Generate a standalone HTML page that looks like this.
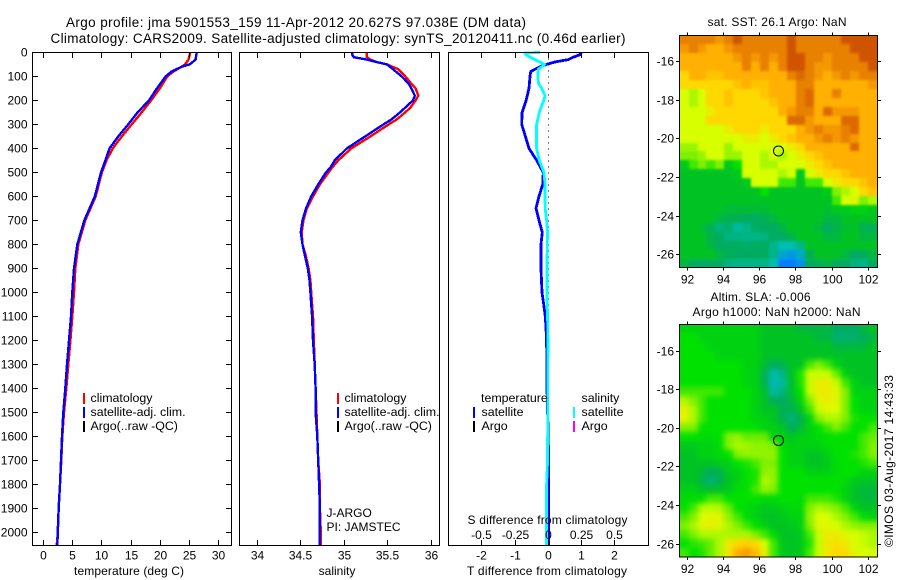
<!DOCTYPE html>
<html>
<head>
<meta charset="utf-8">
<title>Argo profile</title>
<style>
html,body{margin:0;padding:0;background:#fff}
svg{display:block}
text{font-family:"Liberation Sans",sans-serif;font-size:12px;fill:#000}
</style>
</head>
<body>
<svg id="chart" xmlns="http://www.w3.org/2000/svg" width="900" height="580" viewBox="0 0 900 580">
<defs>
<filter id="sstBlur" filterUnits="userSpaceOnUse" x="640" y="0" width="260" height="300" color-interpolation-filters="sRGB"><feGaussianBlur stdDeviation="1.2"/></filter>
<filter id="slaBlur" filterUnits="userSpaceOnUse" x="640" y="290" width="260" height="290" color-interpolation-filters="sRGB"><feGaussianBlur stdDeviation="2.7"/></filter>
<clipPath id="sstClip"><rect x="679" y="35" width="199" height="233"/></clipPath>
<clipPath id="slaClip"><rect x="679" y="324" width="199" height="233"/></clipPath>
</defs>
<text x="66" y="27" textLength="460" style="font-size:13.5px">Argo profile: jma 5901553_159 11-Apr-2012 20.627S 97.038E (DM data)</text>
<text x="50.5" y="43" textLength="575" style="font-size:13.5px">Climatology: CARS2009. Satellite-adjusted climatology: synTS_20120411.nc (0.46d earlier)</text>
<text x="74" y="575" textLength="110">temperature (deg C)</text>
<text x="337" y="575" text-anchor="middle">salinity</text>
<text x="707.5" y="26" textLength="139">sat. SST: 26.1  Argo: NaN</text>
<text x="710.5" y="301" textLength="100">Altim. SLA: -0.006</text>
<text x="692.5" y="316" textLength="168">Argo h1000: NaN h2000: NaN</text>
<text transform="translate(893,547) rotate(-90)" textLength="172">©IMOS 03-Aug-2017 14:43:33</text>
</svg>
<script>
/* ---- profile data ---- */
var depthTicks = [0,100,200,300,400,500,600,700,800,900,1000,1100,1200,1300,1400,1500,1600,1700,1800,1900,2000];
var tempTicks = [0,5,10,15,20,25,30];
var salTicks = [34,34.5,35,35.5,36];
var salTickLabels = ['34','34.5','35','35.5','36'];
var tDiffTicks = [-2,-1,0,1,2];
var tDiffTickLabels = ['-2','-1','0','1','2'];
var sDiffTicks = [-0.5,-0.25,0,0.25,0.5];
var sDiffTickLabels = ['-0.5','-0.25','0','0.25','0.5'];

var tempDepths = [0,30,50,60,80,100,150,200,250,300,350,400,450,500,600,700,800,900,1000,1100,1200,1300,1400,1500,1600,1700,1800,1900,2000,2055];
var tempClim = [25.1,24.8,24.2,23.6,22.2,21.2,19.9,18.4,16.8,15.1,13.4,11.85,10.8,10.0,8.95,7.18,5.98,5.47,5.24,4.96,4.62,4.27,3.93,3.53,3.25,3.08,2.85,2.62,2.5,2.28];
var tempSat = [26.2,26.0,25.0,23.6,21.9,20.9,19.4,18.05,16.1,14.5,12.8,11.3,10.6,9.85,8.8,7.0,5.8,5.25,4.95,4.73,4.39,4.05,3.76,3.42,3.19,3.02,2.85,2.63,2.46,2.4];

var salDepths = [0,10,20,30,40,50,70,100,130,150,180,200,230,250,280,300,350,400,450,480,500,550,600,650,700,750,800,850,900,950,1000,1100,1200,1300,1400,1500,1600,1700,1800,1900,2000,2055];
var salClim = [35.26,35.26,35.26,35.30,35.37,35.49,35.62,35.70,35.77,35.82,35.85,35.82,35.76,35.70,35.60,35.51,35.30,35.08,34.93,34.86,34.82,34.72,34.64,34.57,34.53,34.51,34.52,34.56,34.59,34.61,34.62,34.64,34.65,34.66,34.67,34.68,34.69,34.70,34.72,34.72,34.73,34.73];
var salSat = [35.09,35.09,35.11,35.26,35.37,35.49,35.56,35.66,35.74,35.77,35.81,35.79,35.70,35.64,35.54,35.45,35.24,35.03,34.89,34.84,34.79,34.70,34.62,34.56,34.52,34.50,34.52,34.55,34.58,34.60,34.61,34.63,34.64,34.66,34.67,34.67,34.69,34.70,34.71,34.72,34.72,34.72];

var tDiffDepths = [0,10,20,30,40,50,60,70,80,100,150,200,250,300,350,400,450,500,550,600,650,700,750,800,900,1000,1050,1100,1150,1200,1400,1500,1600,1800,2000,2055];
var tDiffSat = [0.99,0.95,0.75,0.6,0.2,-0.05,-0.25,-0.4,-0.53,-0.55,-0.58,-0.67,-0.79,-0.8,-0.69,-0.58,-0.35,-0.15,-0.17,-0.28,-0.37,-0.28,-0.18,-0.22,-0.22,-0.19,-0.14,-0.09,-0.07,-0.05,-0.04,-0.02,0,0.01,0.01,0.01];
var sDiffDepths = [0,3,10,20,30,40,50,60,70,100,130,150,180,200,230,250,300,350,400,450,500,550,650,700,750,800,1000,1050,1100,1200,1700,1800,2055];
var sDiffSat = [-0.063,-0.176,-0.168,-0.138,-0.10,-0.063,-0.03,-0.05,-0.075,-0.08,-0.073,-0.05,-0.025,-0.033,-0.055,-0.068,-0.088,-0.088,-0.088,-0.068,-0.033,-0.025,-0.023,-0.013,-0.005,-0.008,-0.01,-0.008,-0.005,-0.003,-0.005,-0.013,-0.013];

/* ---- map data: colour levels 0 (blue) to 10 (dark orange), north to south ---- */
var lonTicks = [92,94,96,98,100,102];
var latTicks = [-16,-18,-20,-22,-24,-26];
var floatLon = 97.038;
var floatLat = -20.627;
var sstGrid = [
[9,9,9,9,8.5,9,10,9,9,9,9,9,10,9,9,9,9,9,10,10,10,10],
[8.5,9,8.5,8,8,8.5,9,9,9,9,9,9,10,9,9,9,9,9,9,10,10,10],
[8,8,8,8,8,8,8.5,9,8.5,9,8.5,9,10,10,9,9,8.5,9,9,9,10,10],
[8,8,8,8,8,8,8,9,8,9,8,9,10,10,9,8.5,8.5,9,9,9,9,10],
[7,8,8,7.5,7.5,8,8,8,8,8,8,8,9,9.5,9,8.5,8,8.5,9,8.5,9,9],
[7,7,7,7,7,7,7.5,8,7.5,7.5,8,8,8,9,9,8,8,8,8,8,8,8.5],
[6,5.5,6,7,7,7.5,7,7,7,7.5,8,8,8,9,9.5,8,8,9,8,8,8,8],
[6,5.5,6,7,7,7.5,7,7,7,7,7.5,8,8,9,9.5,8,8,8,8,8,8,8],
[6,6,6,6.5,7,7,7,7,7,7,7,8,8.5,9,9,8,9.5,8.5,8.5,8.5,8,8],
[6,6,6,7,7,7,7,7,7,7,7,7,9.5,9.5,8.5,8,8,8,9.5,9.5,8,8],
[6,6,6,6,6,6.5,7,7,7,6.5,7,7,7,8,8.5,9,8.5,8.5,9,9.5,8,8],
[6,6,6,6,6,6,6,6.5,6.5,6,6.5,7,7.5,8,8,8.5,9,8.5,9,8.5,8,8],
[5.3,5.3,6,6,6,5.3,6,6,6,6,6,6,6.5,7,8,8,8,8,8,9.5,8,8],
[5,5,5.3,6,6,5.3,5.3,6,6,5.5,6,5.5,6,6.5,7,7.5,8,8,8,8,8,8],
[3.2,4.5,5,4.5,5,3.2,4,6,6,5.5,5.5,6,6,6,6.5,7,7.5,8,8,8,8,8],
[3,3,3,3,3,3,3.2,6,6,6,6,5.5,6,3.2,6,6.5,7,7,7.5,8,8,8],
[3,3,3,3,3,3,3,3.2,6,6,6,4.5,4.5,3,4.5,4.5,6,6.5,7,7,7.5,8],
[3,3,3,3,3,3,3,3,3,4,3,3,3,3,3,3,3.3,5,5.5,6,7,7.5],
[3,3,3,3,3,3,3,3,3,3,3,3,3,3,3,3,3,4.5,6,6.3,5,5.5],
[3,3,3,3,3,2.7,2.7,2.7,2.7,2.7,3,3,3,3,3,3,2.8,3.2,3.2,3.5,3.5,3.2],
[3,3,3,3,2.5,2.2,2.2,2,2,2.2,2.5,3,3,3,3,3,2.5,2.5,3,3,3,3],
[3,3,2.8,2.2,1.6,1.8,1.2,1.5,1.9,2,2,2.4,3,3,3,2.6,2,2.4,2.8,3,2.2,2.2],
[3,3,3,2.3,2,1.6,1.6,1.5,1.5,1.6,2,2,2.4,3,3,3,2.5,2.5,3,3,2.5,2.5],
[3,3,3,2.5,2,2,2,1.9,2,2,1.5,1,1,1.5,3,3,3,3,3,3,3,3],
[3,3,3,3,2.5,2.1,2,2,2,2,1.5,0.6,0.4,0.7,2.2,3,3,3,2.5,2,2,2.5],
[2.5,2,2,2,2,1.6,1.5,1.5,1.5,1.5,1,0,0,0.3,2,2.2,2.5,2,2,1.6,1.5,2]
];
var slaGrid = [
[3.5,3.5,3.5,3.5,3.5,3.5,3.5,3.5,3.5,3,3,3,3,2.5,2.5,2.5,2.5,2,2,2,2.5,3],
[4,4,3.5,3.5,3.5,3.5,3.5,3.5,3.5,3,3,3,3,3,3,2.5,2.5,1.8,1.8,1.8,2,2.5],
[4,4,4,3.5,3.5,3.5,3.5,3.5,3.5,3,3,3,3,3,3,3,3,2.5,2.5,2.5,2.5,3],
[4,4,4,4,3.5,3.5,3.5,3.5,3.5,3,3,3,3,3,3,3,3,3,3,3,3,3],
[4,4,4,4,4,4,4,3.5,3.5,2.8,2,2.2,3,3,4.5,5,4.5,3.5,3,3,3,3],
[4,4,4,4,4,4,4,3.5,3.5,2.2,1.1,1.5,3,4.2,5.8,5.8,5.8,4.8,3.5,3,3,3],
[4,4,4,4,4,4,4,3.5,3.5,2.2,0.9,1.2,2.8,4.2,5.8,6.5,6.5,5.8,4.5,3.5,3,3],
[4.5,4.5,4.5,4.5,4.5,4,4,4,3.5,2.8,1.2,1.6,2.8,4,5.8,6.5,6.5,6.2,5,3.5,3.5,3.5],
[5.5,5,4.5,4,4,4,4,4,3.5,3,2,2,2.5,3.6,5,6.2,6.5,6.2,5,4,3.5,3.5],
[6.3,5.5,4.5,4,4,4,4,4,3.5,3,3,2.2,2.2,3,4.5,5.8,6.2,6,5,4,3.5,3.5],
[6.3,5.5,4.5,4,4,4,4,4,3.5,3.5,3,2.2,1.7,2.2,3.5,5,5.5,5.5,5,4.2,4,4],
[5,5,4,4,4,4,4,4,4,3.5,3.5,3,2,2.6,3.5,4,4.5,5,4.5,4,4,4.5],
[4,4,3.8,3.8,4,5,5.2,4.8,4.8,4.8,3.5,3.5,3,3.5,3.5,3.8,4,4,4,4,4.5,4.8],
[3.2,3.2,3.5,3.5,3.8,5,5.5,5.4,5.2,5.2,5,3.8,3.5,3.5,3.5,3.5,3.8,4,4,4,4.5,5],
[3,3,3.5,3.5,3.8,4,5,5.2,5.2,5.2,5.2,4,3.5,3.5,3,3,3.5,4,4,4.2,4.5,5],
[3,3,3,3,3.2,3.5,4,4.2,4.5,5,5,4,3.5,3.5,3,3,3.3,3.8,4,4,4.2,4.5],
[3,3,2.6,2,2.3,3.2,3.5,4,4.2,5.2,5.2,4,4,4,3.5,3.5,3.5,3.8,4,4,3.5,3.5],
[3,3,2.3,1.7,2.1,3,3.5,4,4.2,5.6,5.2,4,4,4,4,4,4,4,3.8,3.2,3,3],
[3.5,3.5,3,2.8,3,3.2,3.8,4,4.5,5.2,5,4,4,4,4,4,4,4,3.5,3,2.6,2.6],
[3.8,3.8,4,4.5,4.5,4,4,4,4,3.8,3.8,4,4,3.8,4.5,4.5,4.5,4.2,3.5,3,2.6,2.6],
[4,4.5,5.5,5.7,5.5,4.8,4,3.8,3.5,3.2,3.2,3.5,3.8,3.8,5,5.5,5.3,5,4.5,3.5,3,3],
[4.5,5,6,6.2,6.2,5.2,4.5,3.8,3.5,3,3,3.2,3.5,3.5,5.2,6,6,5.5,5,4.5,3.8,3.5],
[5,5.5,6.2,6.4,6.2,5.5,5,4.5,4,3.5,3,3,3.2,3.5,5,6.2,6.2,6,5.5,5.2,5,5],
[4.5,5,5.5,5.5,5.5,5.5,5.5,5.5,5,4.5,3.8,3,3,3.2,4.5,5.8,6.5,6.5,6.2,6,5.8,5.5],
[4,4.3,4.5,4.8,5.5,6.5,7,7.2,7,6,4.5,3.2,3,3.2,4.2,5.8,6.6,6.8,6.6,6,5.8,5.5],
[4.5,4,4.2,4.8,5.5,6.7,8,8.4,7.7,6.5,4.5,3.2,3,3.2,4.5,5.8,6.6,7,6.9,6.3,6,6]
];

var NS = 'http://www.w3.org/2000/svg';
var svg = document.getElementById('chart');
var target = svg;

function node(tag, attrs, name) {
  var el = document.createElementNS(NS, tag);
  for (var k in attrs) { el.setAttribute(k, attrs[k]); }
  
  
  target.appendChild(el);
  return el;
}
function line(x1, y1, x2, y2, name, color, width) {
  return node('line', {x1:x1, y1:y1, x2:x2, y2:y2, stroke:color || '#000', 'stroke-width':width || 1, 'shape-rendering':'crispEdges'}, name);
}
function label(x, y, str, anchor, name, cssSize, len) {
  var el = node('text', {x:x, y:y, 'text-anchor':anchor || 'start'}, name);
  el.textContent = str;
  if (cssSize) { el.style.fontSize = cssSize; }
  if (len) { el.setAttribute('textLength', len); }
  return el;
}
function frame(l, t, r, b, name) {
  return node('rect', {x:l, y:t, width:r - l, height:b - t, fill:'none', stroke:'#000', 'stroke-width':1, 'shape-rendering':'crispEdges'}, name);
}
function snap(v) { return Math.round(v - 0.5) + 0.5; }

/* ---- axis functions ---- */
var panelTop = 52.5, panelBottom = 545.5;
function yDepth(d) { return 52.4 + d * 0.24; }
function xTemp(t) { return 43.3 + t * 5.856; }
function xSal(s) { return 257.3 + (s - 34) * 87; }
function xTDiff(t) { return 548.3 + t * 33.2; }
function xSDiff(s) { return 548.3 + s * 4 * 33.2; }

function profile(depths, values, xf, color, name, width) {
  var pts = [];
  for (var i = 0; i < depths.length; i++) {
    pts.push(xf(values[i]).toFixed(1) + ',' + yDepth(depths[i]).toFixed(1));
  }
  return node('polyline', {points:pts.join(' '), fill:'none', stroke:color, 'stroke-width':width || 2.4, 'shape-rendering':'crispEdges', 'stroke-linejoin':'miter'}, name);
}
function legendBar(x, y, color, name) {
  return node('rect', {x:x, y:y, width:2, height:11, fill:color}, name);
}

/* ---- panel 1: temperature ---- */
profile(tempDepths, tempClim, xTemp, '#ff0000', 'temperature-climatology-line');
profile(tempDepths, tempSat, xTemp, '#0000ff', 'temperature-satellite-line');
frame(32.5, panelTop, 231.5, panelBottom, 'temperature-panel-frame');
depthTicks.forEach(function (d) {
  var y = snap(yDepth(d));
  line(32.5, y, 38, y, 'depth-tick-left');
  line(226, y, 231.5, y, 'depth-tick-right');
  label(27.5, y + 4, String(d), 'end', 'depth-tick-label');
});
tempTicks.forEach(function (t) {
  var x = snap(xTemp(t));
  line(x, panelTop, x, 58, 'temperature-tick-top');
  line(x, 540, x, panelBottom, 'temperature-tick-bottom');
  label(x, 559.5, String(t), 'middle', 'temperature-tick-label');
});
legendBar(83, 393, '#ff0000', 'temperature-legend-climatology-swatch');
label(90.5, 402, 'climatology', 'start', 'temperature-legend-climatology', '12.4px');
legendBar(83, 407, '#0000ff', 'temperature-legend-satellite-swatch');
label(90.5, 416, 'satellite-adj. clim.', 'start', 'temperature-legend-satellite', '12.4px');
legendBar(83, 421, '#000000', 'temperature-legend-argo-swatch');
label(90.5, 430, 'Argo(..raw -QC)', 'start', 'temperature-legend-argo', '12.4px');

/* ---- panel 2: salinity ---- */
profile(salDepths, salClim, xSal, '#ff0000', 'salinity-climatology-line');
profile(salDepths, salSat, xSal, '#0000ff', 'salinity-satellite-line');
frame(239.5, panelTop, 439.5, panelBottom, 'salinity-panel-frame');
salTicks.forEach(function (s, i) {
  var x = snap(xSal(s));
  line(x, panelTop, x, 58, 'salinity-tick-top');
  line(x, 540, x, panelBottom, 'salinity-tick-bottom');
  label(x, 559.5, salTickLabels[i], 'middle', 'salinity-tick-label');
});
legendBar(337, 393, '#ff0000', 'salinity-legend-climatology-swatch');
label(344.5, 402, 'climatology', 'start', 'salinity-legend-climatology', '12.4px');
legendBar(337, 407, '#0000ff', 'salinity-legend-satellite-swatch');
label(344.5, 416, 'satellite-adj. clim.', 'start', 'salinity-legend-satellite', '12.4px');
legendBar(337, 421, '#000000', 'salinity-legend-argo-swatch');
label(344.5, 430, 'Argo(..raw -QC)', 'start', 'salinity-legend-argo', '12.4px');
label(326.5, 517, 'J-ARGO', 'start', 'float-program-label');
label(326.5, 531, 'PI: JAMSTEC', 'start', 'float-pi-label');

/* ---- panel 3: differences ---- */
node('line', {x1:548.5, y1:panelTop, x2:548.5, y2:310, stroke:'#000', 'stroke-width':1, 'stroke-dasharray':'1 5', 'shape-rendering':'crispEdges'}, 'zero-difference-line');
profile(tDiffDepths, tDiffSat, xTDiff, '#0000ff', 'temperature-difference-line', 2.8);
profile(sDiffDepths, sDiffSat, xSDiff, '#00ffff', 'salinity-difference-line', 2.8);
frame(448.5, panelTop, 648.5, panelBottom, 'difference-panel-frame');
tDiffTicks.forEach(function (t, i) {
  var x = snap(xTDiff(t));
  line(x, panelTop, x, 58, 'difference-tick-top');
  line(x, 540, x, panelBottom, 'difference-tick-bottom');
  label(x, 559.5, tDiffTickLabels[i], 'middle', 'temperature-difference-tick-label');
});
sDiffTicks.forEach(function (s, i) {
  label(snap(xSDiff(s)), 539, sDiffTickLabels[i], 'middle', 'salinity-difference-tick-label');
});
label(467, 575, 'T difference from climatology', 'start', 't-difference-axis-title', null, 160);
label(467.5, 524, 'S difference from climatology', 'start', 's-difference-axis-title', null, 160);
label(481, 402, 'temperature', 'start', 'difference-legend-temperature-heading', '12.4px');
legendBar(473, 407, '#0000ff', 'difference-legend-temp-satellite-swatch');
label(481.5, 416, 'satellite', 'start', 'difference-legend-temp-satellite', '12.4px');
legendBar(473, 421, '#000000', 'difference-legend-temp-argo-swatch');
label(481.5, 430, 'Argo', 'start', 'difference-legend-temp-argo', '12.4px');
label(581.5, 402, 'salinity', 'start', 'difference-legend-salinity-heading', '12.4px');
legendBar(573, 407, '#00ffff', 'difference-legend-sal-satellite-swatch');
label(581.5, 416, 'satellite', 'start', 'difference-legend-sal-satellite', '12.4px');
legendBar(573, 421, '#ff00ff', 'difference-legend-sal-argo-swatch');
label(581.5, 430, 'Argo', 'start', 'difference-legend-sal-argo', '12.4px');

/* ---- maps ---- */
var colorStops = [[0,128,255],[0,190,175],[0,172,95],[0,195,35],[0,225,0],[128,240,0],[215,255,0],[255,216,0],[255,176,0],[232,128,0],[208,84,0]];
function levelColor(v) {
  var lo = Math.max(0, Math.min(9, Math.floor(v)));
  var f = v - lo;
  var a = colorStops[lo], b = colorStops[lo + 1];
  return 'rgb(' + Math.round(a[0] + (b[0] - a[0]) * f) + ',' + Math.round(a[1] + (b[1] - a[1]) * f) + ',' + Math.round(a[2] + (b[2] - a[2]) * f) + ')';
}
var lonWest = 91.57, lonEast = 102.5;
function xLon(lon) { return 687.3 + (lon - 92) * 18.1; }
function drawMap(grid, top, bottom, lat16y, prefix, clipId, blurId) {
  function yLat(lat) { return lat16y + (-16 - lat) * 19.33; }
  var latNorth = -16 + (lat16y - top) / 19.33;
  var latSouth = -16 - (bottom - lat16y) / 19.33;
  var rows = grid.length;
  var cols = grid[0].length;
  var dLon = (lonEast - lonWest) / cols;
  var dLat = (latNorth - latSouth) / rows;
  var clipGroup = node('g', {'clip-path':'url(#' + clipId + ')'}, prefix + '-map-clip');
  target = clipGroup;
  var blurGroup = node('g', {filter:'url(#' + blurId + ')'}, prefix + '-heatmap');
  target = blurGroup;
  for (var r = 0; r < rows; r++) {
    for (var c = 0; c < cols; c++) {
      var x0 = Math.round(xLon(lonWest + c * dLon));
      var x1 = Math.round(xLon(lonWest + (c + 1) * dLon));
      var y0 = Math.round(yLat(latNorth - r * dLat));
      var y1 = Math.round(yLat(latNorth - (r + 1) * dLat));
      if (c === 0) { x0 -= 14; }
      if (c === cols - 1) { x1 += 14; }
      if (r === 0) { y0 -= 14; }
      if (r === rows - 1) { y1 += 14; }
      node('rect', {x:x0, y:y0, width:x1 - x0, height:y1 - y0, fill:levelColor(grid[r][c]), 'shape-rendering':'crispEdges'}, prefix + '-heat-cell');
    }
  }
  target = svg;
  frame(679.5, top, 877.5, bottom, prefix + '-map-frame');
  lonTicks.forEach(function (lon) {
    var x = snap(xLon(lon));
    line(x, top - 3, x, top, prefix + '-lon-tick-top');
    line(x, bottom, x, bottom + 3, prefix + '-lon-tick-bottom');
    label(x, bottom + 16, String(lon), 'middle', prefix + '-lon-tick-label');
  });
  latTicks.forEach(function (lat) {
    var y = snap(yLat(lat));
    line(676, y, 679.5, y, prefix + '-lat-tick-left');
    line(877.5, y, 881, y, prefix + '-lat-tick-right');
    label(674, y + 4, String(lat), 'end', prefix + '-lat-tick-label');
  });
  node('circle', {cx:xLon(floatLon), cy:yLat(floatLat), r:5, fill:'none', stroke:'#000', 'stroke-width':1}, prefix + '-float-position-marker');
}
drawMap(sstGrid, 35.5, 267.5, 61.5, 'sst', 'sstClip', 'sstBlur');
drawMap(slaGrid, 324.5, 557, 351, 'sla', 'slaClip', 'slaBlur');
</script>
</body>
</html>
